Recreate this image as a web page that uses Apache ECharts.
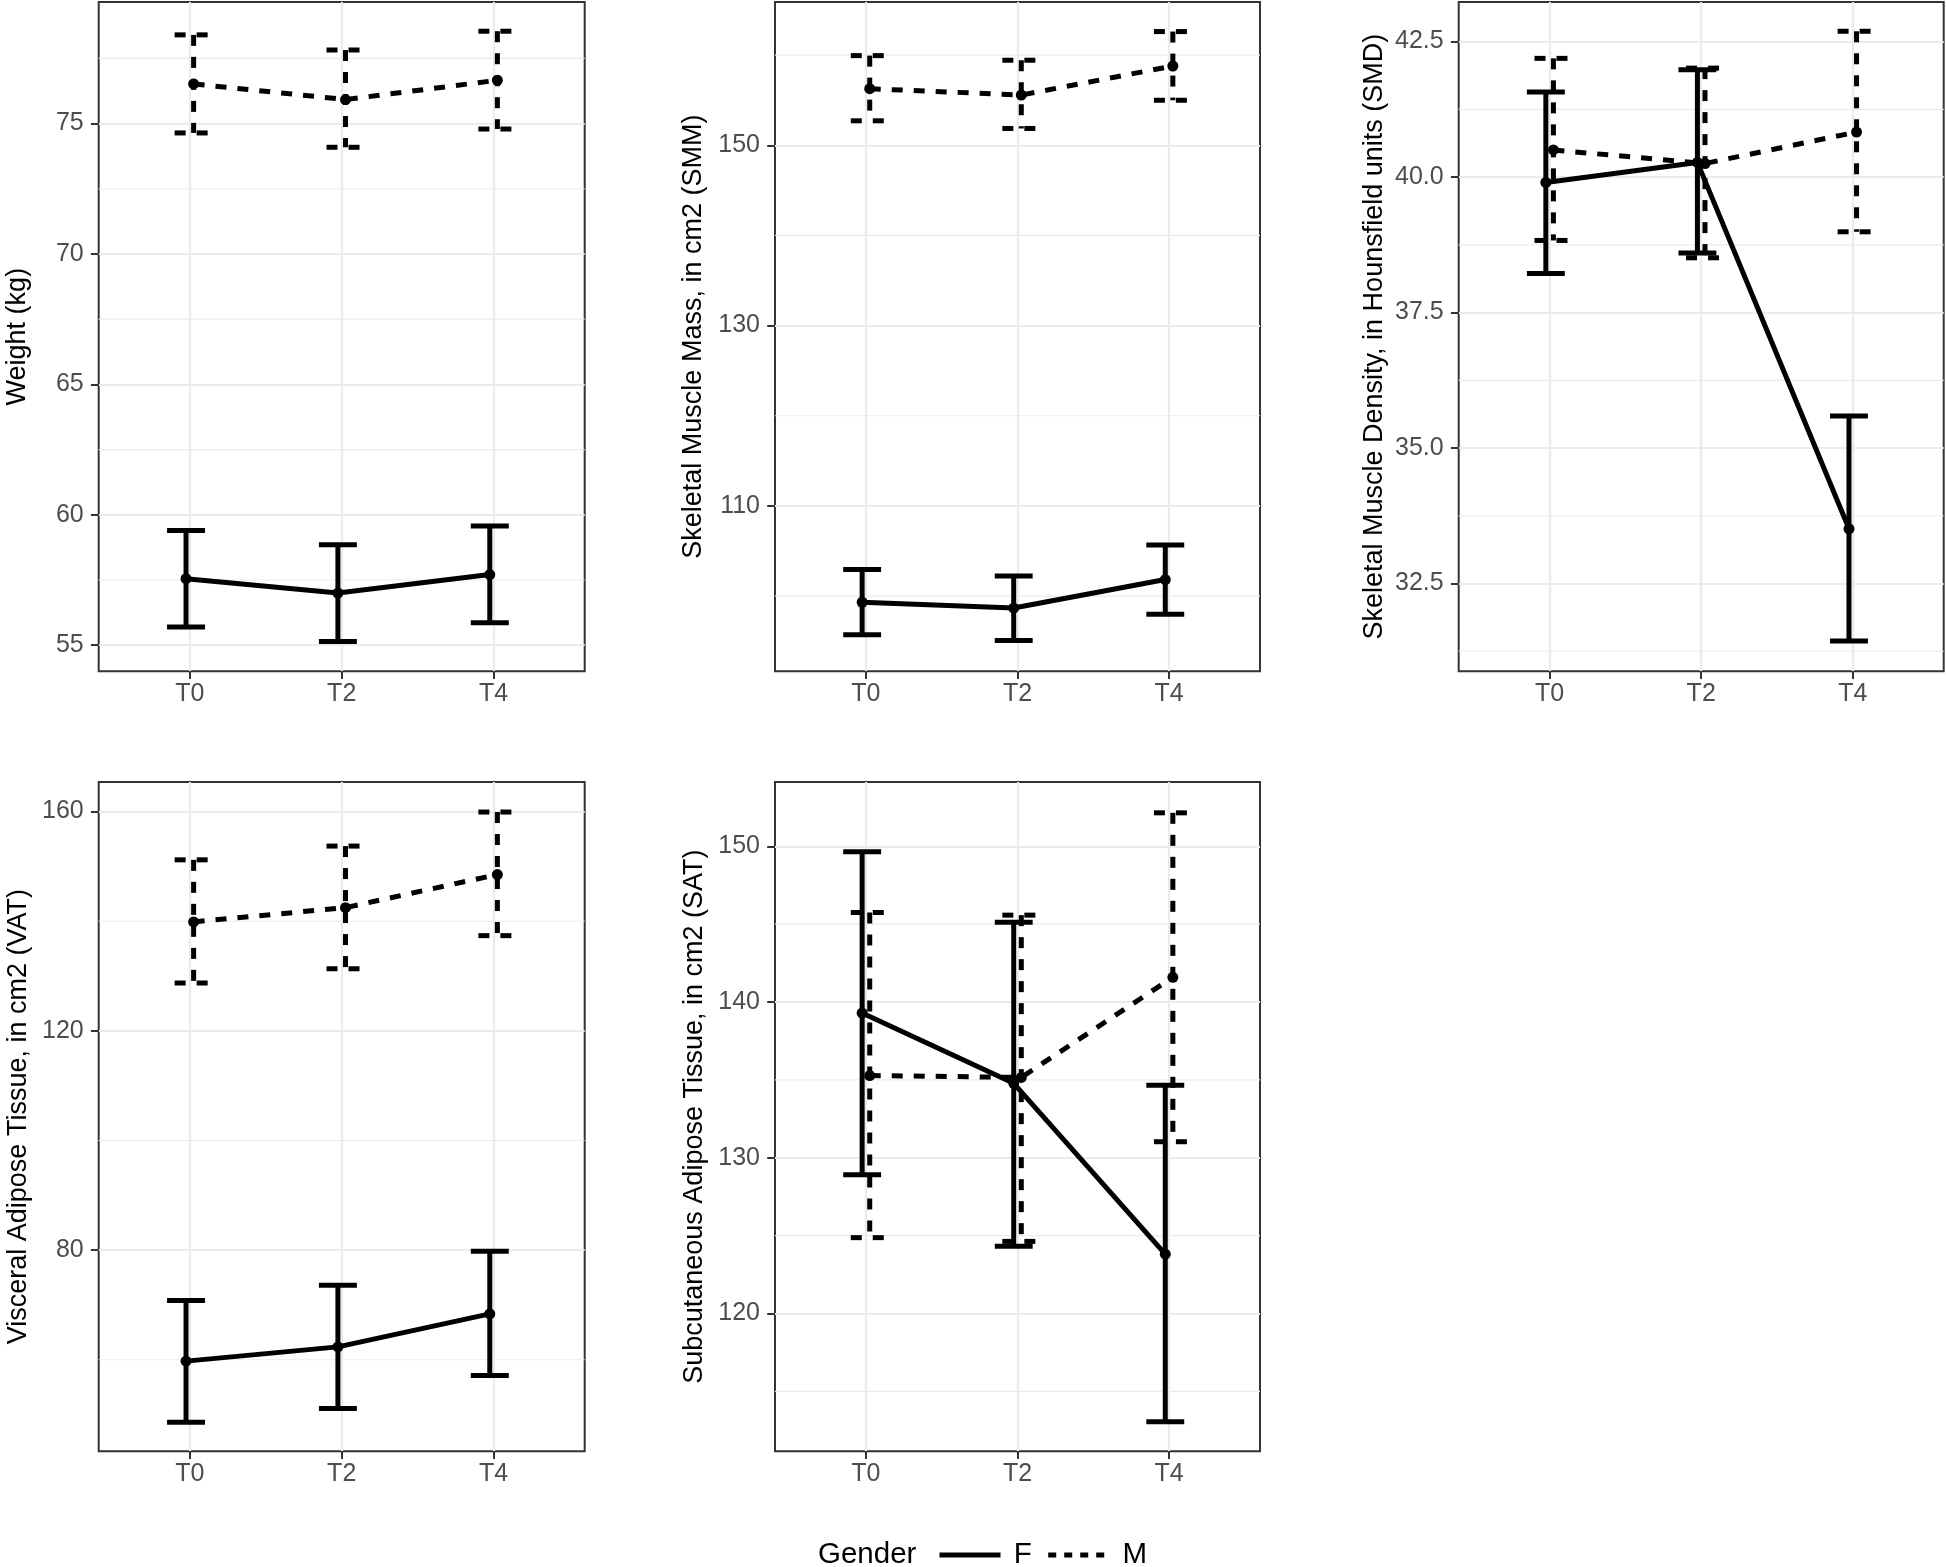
<!DOCTYPE html>
<html><head><meta charset="utf-8">
<script src="https://cdn.jsdelivr.net/npm/echarts@6/dist/echarts.min.js"></script>
<style>html,body{margin:0;padding:0;background:#fff}#c{width:1946px;height:1567px}</style>
</head><body><div id="c"></div>
<script>
const categories = ['T0', 'T2', 'T4'];

// Weight (kg)
const weightF    = [57.55, 57.00, 57.71];
const weightF_lo = [55.70, 55.14, 55.86];
const weightF_hi = [59.40, 58.85, 59.57];
const weightM    = [76.52, 75.92, 76.66];
const weightM_lo = [74.64, 74.09, 74.79];
const weightM_hi = [78.40, 77.82, 78.54];
const weightTicks = [55, 60, 65, 70, 75];
const weightMinor = [57.5, 62.5, 67.5, 72.5, 77.5];

// Skeletal Muscle Mass (SMM)
const smmF    = [99.31, 98.67, 101.83];
const smmF_lo = [95.70, 95.08, 97.97];
const smmF_hi = [102.93, 102.23, 105.65];
const smmM    = [156.28, 155.58, 158.80];
const smmM_lo = [152.72, 151.87, 155.00];
const smmM_hi = [159.95, 159.44, 162.62];
const smmTicks = [110, 130, 150];
const smmMinor = [100, 120, 140, 160];

// Skeletal Muscle Density (SMD)
const smdF    = [39.90, 40.27, 33.51];
const smdF_lo = [38.22, 38.60, 31.44];
const smdF_hi = [41.57, 41.98, 35.59];
const smdM    = [40.50, 40.25, 40.83];
const smdM_lo = [38.83, 38.51, 38.99];
const smdM_hi = [42.19, 42.01, 42.69];
const smdTicks = [32.5, 35, 37.5, 40, 42.5];
const smdMinor = [31.25, 33.75, 36.25, 38.75, 41.25];

// Visceral Adipose Tissue (VAT)
const vatF    = [59.75, 62.35, 68.38];
const vatF_lo = [48.60, 51.12, 57.15];
const vatF_hi = [70.81, 73.58, 79.78];
const vatM    = [139.88, 142.48, 148.52];
const vatM_lo = [128.73, 131.33, 137.37];
const vatM_hi = [151.20, 153.71, 159.92];
const vatTicks = [80, 120, 160];
const vatMinor = [60, 100, 140];

// Subcutaneous Adipose Tissue (SAT)
const satF    = [139.29, 134.78, 123.81];
const satF_lo = [128.91, 124.31, 113.04];
const satF_hi = [149.65, 145.13, 134.66];
const satM    = [135.28, 135.16, 141.59];
const satM_lo = [124.87, 124.63, 131.03];
const satM_hi = [145.75, 145.58, 152.15];
const satTicks = [120, 130, 140, 150];
const satMinor = [115, 125, 135, 145];

const legendNames = ['F', 'M'];
const legendTitle = 'Gender';

const FONT = '"Liberation Sans", Arial, Helvetica, sans-serif';
const LW = 5;
const DASH = [11, 11];
const CAP = 0.125;
const DODGE = 0.025;

const panels = [
  {title: 'Weight (kg)', F: weightF, Flo: weightF_lo, Fhi: weightF_hi, M: weightM, Mlo: weightM_lo, Mhi: weightM_hi,
   ticks: weightTicks, minor: weightMinor, dec: 0, range: [54.0, 79.66],
   grid: {left: 98.7, top: 2, width: 486, height: 669.3}, gap: 68},
  {title: 'Skeletal Muscle Mass, in cm2 (SMM)', F: smmF, Flo: smmF_lo, Fhi: smmF_hi, M: smmM, Mlo: smmM_lo, Mhi: smmM_hi,
   ticks: smmTicks, minor: smmMinor, dec: 0, range: [91.65, 165.9],
   grid: {left: 775, top: 2, width: 485, height: 669.3}, gap: 68},
  {title: 'Skeletal Muscle Density, in Hounsfield units (SMD)', F: smdF, Flo: smdF_lo, Fhi: smdF_hi, M: smdM, Mlo: smdM_lo, Mhi: smdM_hi,
   ticks: smdTicks, minor: smdMinor, dec: 1, range: [30.88, 43.23],
   grid: {left: 1458.7, top: 2, width: 485, height: 669.3}, gap: 71},
  {title: 'Visceral Adipose Tissue, in cm2 (VAT)', F: vatF, Flo: vatF_lo, Fhi: vatF_hi, M: vatM, Mlo: vatM_lo, Mhi: vatM_hi,
   ticks: vatTicks, minor: vatMinor, dec: 0, range: [43.3, 165.4],
   grid: {left: 98.7, top: 782, width: 486, height: 669.3}, gap: 67},
  {title: 'Subcutaneous Adipose Tissue, in cm2 (SAT)', F: satF, Flo: satF_lo, Fhi: satF_hi, M: satM, Mlo: satM_lo, Mhi: satM_hi,
   ticks: satTicks, minor: satMinor, dec: 0, range: [111.15, 154.13],
   grid: {left: 775, top: 782, width: 485, height: 669.3}, gap: 67}
];

function errRender(dash) {
  return function (params, api) {
    const x = api.value(0), lo = api.value(1), hi = api.value(2);
    const pHi = api.coord([x, hi]), pLo = api.coord([x, lo]);
    const l = api.coord([x - CAP, hi])[0], r = api.coord([x + CAP, hi])[0];
    const style = {stroke: '#000', lineWidth: LW, lineDash: dash, fill: null};
    return {type: 'group', children: [
      {type: 'line', shape: {x1: l, y1: pHi[1], x2: r, y2: pHi[1]}, style: style},
      {type: 'line', shape: {x1: pHi[0], y1: pHi[1], x2: pLo[0], y2: pLo[1]}, style: style},
      {type: 'line', shape: {x1: l, y1: pLo[1], x2: r, y2: pLo[1]}, style: style}
    ]};
  };
}
function minorRender(params, api) {
  const y = api.coord([1, api.value(1)])[1];
  const cs = params.coordSys;
  return {type: 'line', shape: {x1: cs.x, y1: y, x2: cs.x + cs.width, y2: y},
          style: {stroke: '#EBEBEB', lineWidth: 1.2}};
}

const grids = [], xAxes = [], yAxes = [], series = [];
panels.forEach(function (p, i) {
  grids.push(Object.assign({show: true, borderColor: '#333333', borderWidth: 2, backgroundColor: '#fff', containLabel: false, outerBoundsMode: 'none'}, p.grid));
  xAxes.push({
    type: 'value', gridIndex: i, min: 0.4, max: 3.6,
    axisLine: {show: false},
    axisTick: {show: true, length: 7.8, lineStyle: {color: '#333333', width: 2}, customValues: [1, 2, 3]},
    axisLabel: {show: true, customValues: [1, 2, 3], margin: 10, fontSize: 25, color: '#4D4D4D', fontFamily: FONT,
                formatter: function (v) { return categories[Math.round(v) - 1]; }},
    splitLine: {show: true, lineStyle: {color: '#EBEBEB', width: 2.2}}
  });
  yAxes.push({
    type: 'value', gridIndex: i, min: p.range[0], max: p.range[1],
    name: p.title, nameLocation: 'middle', nameRotate: 90, nameGap: p.gap,
    nameTextStyle: {fontSize: 27, color: '#000', fontFamily: FONT},
    axisLine: {show: false},
    axisTick: {show: true, length: 7.8, lineStyle: {color: '#333333', width: 2}, customValues: p.ticks},
    axisLabel: {show: true, customValues: p.ticks, margin: 15, fontSize: 25, color: '#4D4D4D', fontFamily: FONT,
                formatter: (function (d) { return function (v) { return Number(v).toFixed(d); }; })(p.dec)},
    splitLine: {show: true, lineStyle: {color: '#EBEBEB', width: 2.2}}
  });
  series.push({
    type: 'custom', name: 'minor' + i, xAxisIndex: i, yAxisIndex: i, silent: true, z: 0,
    renderItem: minorRender, encode: {x: 0, y: 1},
    data: p.minor.map(function (v) { return [1, v]; })
  });
  series.push({
    type: 'custom', name: 'F-err' + i, xAxisIndex: i, yAxisIndex: i, z: 2,
    renderItem: errRender(null), encode: {x: 0, y: [1, 2]},
    data: categories.map(function (c, k) { return [k + 1 - DODGE, p.Flo[k], p.Fhi[k]]; })
  });
  series.push({
    type: 'custom', name: 'M-err' + i, xAxisIndex: i, yAxisIndex: i, z: 2,
    renderItem: errRender(DASH), encode: {x: 0, y: [1, 2]},
    data: categories.map(function (c, k) { return [k + 1 + DODGE, p.Mlo[k], p.Mhi[k]]; })
  });
  series.push({
    type: 'line', name: legendNames[0], xAxisIndex: i, yAxisIndex: i, z: 3,
    symbol: 'circle', symbolSize: 11, itemStyle: {color: '#000'},
    lineStyle: {color: '#000', width: LW, type: 'solid'},
    data: categories.map(function (c, k) { return [k + 1 - DODGE, p.F[k]]; })
  });
  series.push({
    type: 'line', name: legendNames[1], xAxisIndex: i, yAxisIndex: i, z: 3,
    symbol: 'circle', symbolSize: 11, itemStyle: {color: '#000'},
    lineStyle: {color: '#000', width: LW, type: DASH},
    data: categories.map(function (c, k) { return [k + 1 + DODGE, p.M[k]]; })
  });
});

const chart = echarts.init(document.getElementById('c'), null, {renderer: 'canvas'});
chart.setOption({
  animation: false,
  backgroundColor: '#fff',
  grid: grids, xAxis: xAxes, yAxis: yAxes, series: series,
  legend: {
    data: [
      {name: legendNames[0], lineStyle: {type: 'solid', width: LW, color: '#000'}},
      {name: legendNames[1], lineStyle: {type: [8, 8], width: LW, color: '#000'}}
    ],
    left: 937, top: 1540, orient: 'horizontal', padding: 0,
    itemWidth: 61, itemHeight: 30, itemGap: 14,
    itemStyle: {opacity: 0},
    lineStyle: {width: LW, color: '#000'},
    selectedMode: false,
    formatter: function (n) { return ' ' + n; },
    textStyle: {fontSize: 29.5, color: '#000', fontFamily: FONT}
  },
  graphic: [{type: 'text', left: 818, top: 1540, style: {text: legendTitle, font: '29.5px "Liberation Sans", Arial, sans-serif', fill: '#000'}}]
});
</script></body></html>
